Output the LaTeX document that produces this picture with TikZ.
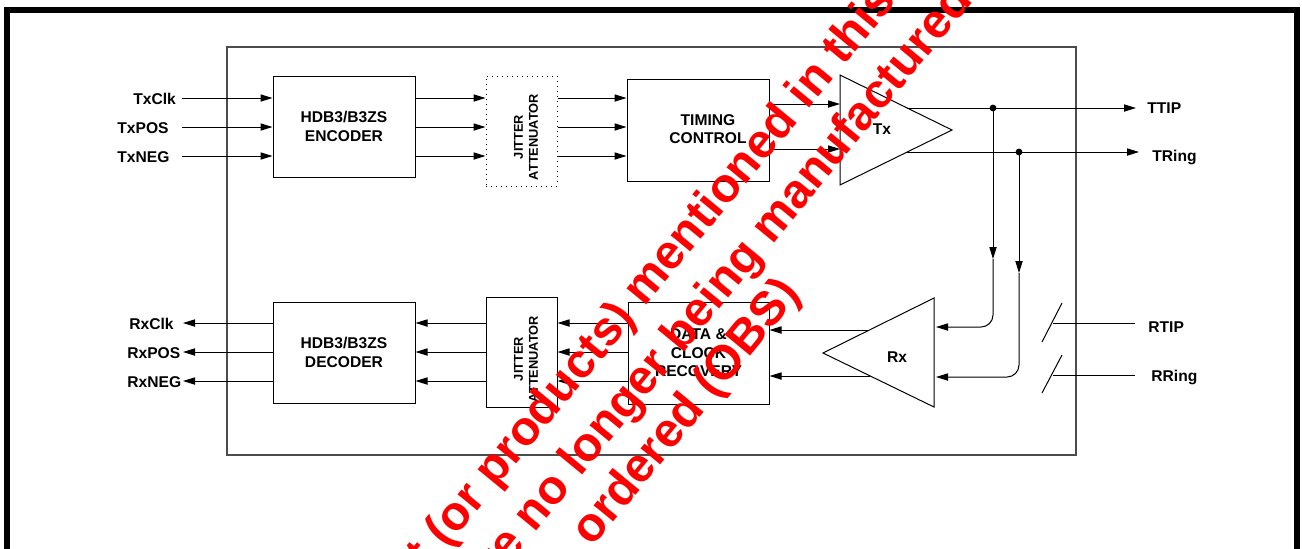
\documentclass[tikz,border=0pt]{standalone}
\usepackage{fontspec}
\setmainfont{Liberation Sans}
\usetikzlibrary{arrows.meta,positioning}

\tikzset{
    blk/.style={draw,line width=0.5pt,align=center,inner sep=0pt,font=\bfseries\fontsize{7.8}{9.2}\selectfont},
    sig/.style={inner sep=0pt,font=\bfseries\fontsize{7.8}{9.2}\selectfont},
    jit/.style={align=center,rotate=90,inner sep=0pt,font=\bfseries\fontsize{6.4}{7.5}\selectfont},
    arr/.style={-{Triangle[length=6pt,width=3.6pt]},line width=0.5pt},
    obs/.style={rotate=50.5,inner sep=0pt,text=red,font=\bfseries\fontsize{24}{28}\selectfont}
}

\begin{document}
\begin{tikzpicture}[x=0.5pt,y=-0.5pt]
    \useasboundingbox (0,0) rectangle (1302,548);
    \draw[line width=3pt] (7,10) rectangle (1297,620);
    \draw[line width=0.6pt,black!70] (227,47) rectangle (1076,455);

    % transmit side
    \node[blk,minimum width=71pt,minimum height=50.5pt] (enc) at (344,126.5) {HDB3/B3ZS\\ENCODER};
    \node[blk,dotted,minimum width=35.5pt,minimum height=55pt] (txjit) at (521.5,131) {};
    \node[jit] (txjittxt) at (526,137) {JITTER\\ATTENUATOR};
    \node[blk,minimum width=71pt,minimum height=51pt] (timing) at (698,130) {};
    \node[blk,draw=none] (timingtxt) at (708,129) {TIMING\\CONTROL};

    \coordinate (tx1) at (840,75);
    \coordinate (tx2) at (840,185);
    \coordinate (tx3) at (952,130);
    \draw[line width=0.5pt] (tx1) -- (tx3) -- (tx2) -- cycle;
    \node[sig] (txlbl) at (882,129) {Tx};

    \node[sig,anchor=base west] (txclk) at (133,104) {TxClk};
    \node[sig,anchor=base west] (txpos) at (117,133) {TxPOS};
    \node[sig,anchor=base west] (txneg) at (117,162) {TxNEG};
    \foreach \i/\y in {1/98,2/127,3/156} {
        \coordinate (tin\i) at (182,\y);
        \draw[arr] (tin\i) -- (enc.west |- tin\i);
        \draw[arr] (enc.east |- tin\i) -- (txjit.west |- tin\i);
        \draw[arr] (txjit.east |- tin\i) -- (timing.west |- tin\i);
    }
    \coordinate (tq1) at (840,104);
    \coordinate (tq2) at (840,149);
    \draw[arr] (timing.east |- tq1) -- (tq1);
    \draw[arr] (timing.east |- tq2) -- (tq2);

    \node[sig,anchor=base west] (ttip) at (1147,113) {TTIP};
    \node[sig,anchor=base west] (tring) at (1152,161) {TRing};
    \coordinate (tp1) at (907,108);
    \coordinate (tp2) at (907,152);
    \coordinate (tpend1) at (1136,108);
    \coordinate (tpend2) at (1139,152);
    \draw[arr] (tp1) -- (tpend1);
    \draw[arr] (tp2) -- (tpend2);

    % loop back to receiver
    \coordinate (j1) at (993,108);
    \coordinate (j2) at (1019,152);
    \fill (j1) circle (1.7pt);
    \fill (j2) circle (1.7pt);
    \coordinate (j1m) at (993,259);
    \coordinate (j2m) at (1019,273);
    \coordinate (rxi1) at (936,327);
    \coordinate (rxi2) at (936,377);
    \draw[arr] (j1) -- (j1m);
    \draw[arr] (j2) -- (j2m);
    \draw[arr,rounded corners=6pt] (j1m) -- (j1 |- rxi1) -- (rxi1);
    \draw[arr,rounded corners=6pt] (j2m) -- (j2 |- rxi2) -- (rxi2);

    % receive side
    \coordinate (rx1) at (934,298);
    \coordinate (rx2) at (934,407);
    \coordinate (rx3) at (823,353);
    \draw[line width=0.5pt] (rx1) -- (rx3) -- (rx2) -- cycle;
    \node[sig] (rxlbl) at (897,357) {Rx};

    \node[blk,minimum width=70.5pt,minimum height=51pt] (dcr) at (698.5,353) {DATA \&\\CLOCK\\RECOVERY};
    \node[blk,minimum width=35.5pt,minimum height=55pt] (rxjit) at (521.5,352) {};
    \node[jit] (rxjittxt) at (526,359) {JITTER\\ATTENUATOR};
    \node[blk,minimum width=71pt,minimum height=50.5pt] (dec) at (344,352.5) {HDB3/B3ZS\\DECODER};

    \coordinate (ro1) at (869,330);
    \coordinate (ro2) at (870,376);
    \draw[arr] (ro1) -- (dcr.east |- ro1);
    \draw[arr] (ro2) -- (dcr.east |- ro2);

    \node[sig,anchor=base west] (rxclk) at (129,329) {RxClk};
    \node[sig,anchor=base west] (rxpos) at (127,358) {RxPOS};
    \node[sig,anchor=base west] (rxneg) at (127,387) {RxNEG};
    \foreach \i/\y in {1/323,2/352,3/381} {
        \coordinate (rout\i) at (183,\y);
        \draw[arr] (dcr.west |- rout\i) -- (rxjit.east |- rout\i);
        \draw[arr] (rxjit.west |- rout\i) -- (dec.east |- rout\i);
        \draw[arr] (dec.west |- rout\i) -- (rout\i);
    }

    \node[sig,anchor=base west] (rtip) at (1148,332) {RTIP};
    \node[sig,anchor=base west] (rring) at (1151,381) {RRing};
    \coordinate (rt0) at (1053,323);
    \coordinate (rt1) at (1135,323);
    \coordinate (rr0) at (1053,375);
    \coordinate (rr1) at (1135,375);
    \draw[line width=0.5pt] (rt0) -- (rt1);
    \draw[line width=0.5pt] (rr0) -- (rr1);
    \draw[line width=0.5pt] (1042,342) -- (1062,303);
    \draw[line width=0.5pt] (1042,393) -- (1062,355);

    % obsolete stamp
    \begin{scope}
        \clip (0,0) rectangle (1302,548);
        \node[obs,anchor=base] (obs1) at (722,214) {\llap{product (or products) }mentioned\rlap{ in this}};
        \node[obs,anchor=base] (obs2) at (723,305) {\llap{are no longer }being\rlap{ manufactured}};
        \node[obs,anchor=base] (obs3) at (697,421) {ordered (OBS)};
    \end{scope}
\end{tikzpicture}
\end{document}
